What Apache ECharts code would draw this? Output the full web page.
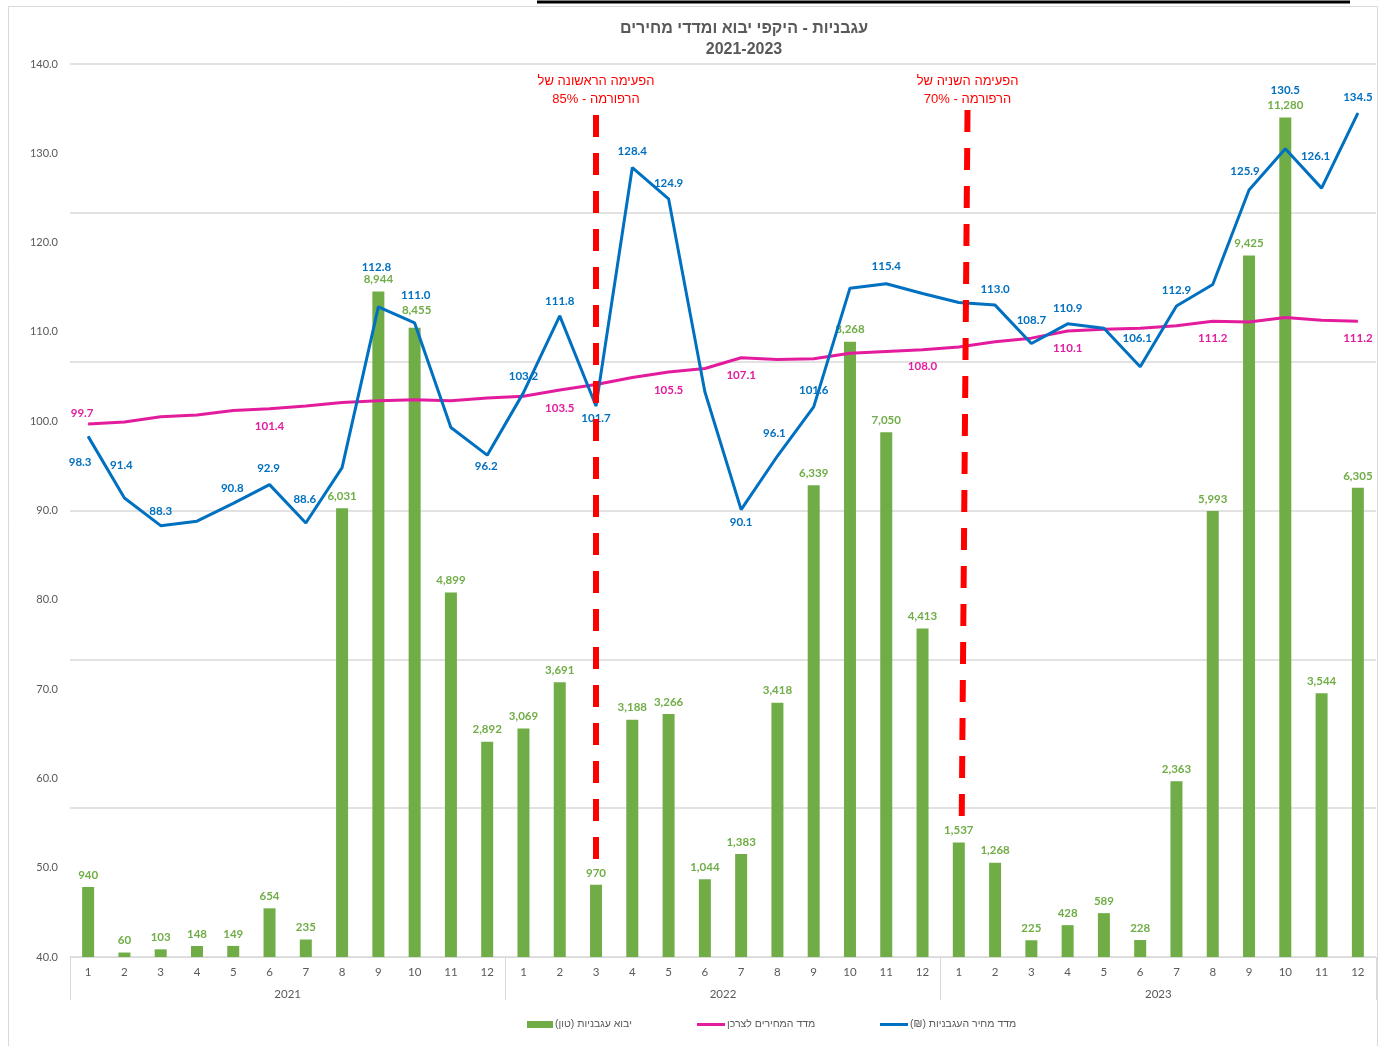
<!DOCTYPE html>
<html><head><meta charset="utf-8">
<script src="https://cdn.jsdelivr.net/npm/echarts@6/dist/echarts.min.js"></script>
<style>html,body{margin:0;padding:0;background:#fff}#c{width:1386px;height:1046px}</style>
</head><body><div id="c"></div>
<script>
const RLM = '\u200F';
const years = ['2021', '2022', '2023'];
const months = ['1','2','3','4','5','6','7','8','9','10','11','12'];
const importTons = [940, 60, 103, 148, 149, 654, 235, 6031, 8944, 8455, 4899, 2892,
                    3069, 3691, 970, 3188, 3266, 1044, 1383, 3418, 6339, 8268, 7050, 4413,
                    1537, 1268, 225, 428, 589, 228, 2363, 5993, 9425, 11280, 3544, 6305];
const tomatoIndex = [98.3, 91.4, 88.3, 88.8, 90.8, 92.9, 88.6, 94.8, 112.8, 111.0, 99.3, 96.2,
                     103.2, 111.8, 101.7, 128.4, 124.9, 103.3, 90.1, 96.1, 101.6, 114.9, 115.4, 114.3,
                     113.3, 113.0, 108.7, 110.9, 110.4, 106.1, 112.9, 115.3, 125.9, 130.5, 126.1, 134.5];
const cpi = [99.7, 99.9, 100.5, 100.7, 101.2, 101.4, 101.7, 102.1, 102.3, 102.4, 102.3, 102.6,
             102.8, 103.5, 104.1, 104.9, 105.5, 105.9, 107.1, 106.9, 107.0, 107.6, 107.8, 108.0,
             108.3, 108.9, 109.3, 110.1, 110.3, 110.4, 110.7, 111.2, 111.1, 111.6, 111.3, 111.2];
const seriesNames = ['יבוא עגבניות (טון)', 'מדד המחירים לצרכן', 'מדד מחיר העגבניות (₪)'];
const titleLines = ['עגבניות - היקפי יבוא ומדדי מחירים', '2021-2023'];
const reformNotes = [['הפעימה הראשונה של', 'הרפורמה - 85%'], ['הפעימה השניה של', 'הרפורמה - 70%']];
// annotation line ends: [x (category position), y (index value)]
const reformLines = [[[14.0, 134.3], [14.0, 50.9]], [[24.24, 134.85], [24.08, 55.1]]];

// label placement (style only): index -> [dx, dy] offset of label centre from point
const blueLabelOffsets = {0:[-8,26],1:[-3,-33],2:[0,-14],4:[-1,-15],5:[-1,-16],6:[-1,-24],8:[-2,-40],9:[1,-28],
  11:[-1,11],12:[0,-16],13:[0,-15],14:[0,12],15:[0,-16],16:[0,-16],18:[0,13],19:[-3,-23],20:[0,-17],22:[0,-17],
  25:[0,-16],26:[0,-23],27:[0,-16],29:[-3,-28],30:[0,-16],32:[-4,-19],33:[0,-59],34:[-6,-32],35:[0,-16]};
const pinkLabelOffsets = {0:[-6,-11],5:[0,18],13:[0,18],16:[0,18],18:[0,17],23:[0,17],27:[0,17],31:[0,17],35:[0,17]};
const barLabelOffsets = {9:[2,-6]};
const reformLabelDistance = [6, 2];

const rtl = s => RLM + s + RLM;
const categories = years.flatMap(y => months.map(m => y + '-' + m));
const NUMFONT = 'Lato, "Liberation Sans", sans-serif';
const HEBFONT = '"Liberation Sans", "DejaVu Sans", sans-serif';
const BLUE = '#0070C0', PINK = '#E31C9E', GREEN = '#70AD47', GRAY = '#595959', GRID = '#D9D9D9';

function withLabels(values, offsets) {
  return values.map((v, i) => ({
    value: v,
    label: offsets[i] ? { show: true, offset: offsets[i] } : { show: false }
  }));
}

const chart = echarts.init(document.getElementById('c'), null, { renderer: 'canvas' });
chart.setOption({
  backgroundColor: '#fff',
  animation: false,
  title: {
    text: titleLines.map(rtl).join('\n'),
    left: 739, top: 13, textAlign: 'center',
    textStyle: { fontFamily: HEBFONT, fontSize: 16, fontWeight: 'bold', color: GRAY, lineHeight: 21 }
  },
  graphic: [
    { type: 'rect', shape: { x: 8.5, y: 6.5, width: 1369, height: 1050 }, style: { fill: 'none', stroke: GRID, lineWidth: 1 }, silent: true, z: -10 },
    { type: 'line', shape: { x1: 537, y1: 2, x2: 1350, y2: 2 }, style: { stroke: '#000', lineWidth: 3 }, silent: true }
  ],
  legend: [0, 1, 2].map(k => ({
    data: [rtl(seriesNames[k])],
    left: [522, 692, 875][k], top: 1014,
    itemWidth: [26, 28, 28][k], itemHeight: [7, 3, 3][k], itemGap: 0,
    icon: 'rect',
    textStyle: { fontFamily: HEBFONT, fontSize: 10.5, color: GRAY, padding: [0, 0, 0, -3] },
    selectedMode: false
  })),
  grid: { left: 70, right: 10, top: 64, bottom: 89, containLabel: false },
  xAxis: [
    {
      type: 'category', data: categories, position: 'bottom', boundaryGap: true,
      axisLine: { show: true, lineStyle: { color: GRID, width: 1 } },
      axisTick: { show: false },
      axisLabel: { interval: 0, margin: 9, color: GRAY, fontFamily: NUMFONT, fontSize: 11.5,
                   formatter: v => v.split('-')[1] },
      splitLine: { show: false }
    },
    {
      type: 'category', data: years, position: 'bottom', boundaryGap: true,
      axisLine: { show: false },
      axisTick: { show: true, length: 43, alignWithLabel: false, lineStyle: { color: GRID, width: 1 } },
      axisLabel: { margin: 31, color: GRAY, fontFamily: NUMFONT, fontSize: 11.5 },
      splitLine: { show: false }
    },
    { type: 'value', min: -0.5, max: 35.5, show: false }
  ],
  yAxis: [
    {
      type: 'value', min: 40, max: 140, interval: 10, position: 'left',
      axisLine: { show: false }, axisTick: { show: false }, splitLine: { show: false },
      axisLabel: { margin: 12, color: GRAY, fontFamily: NUMFONT, fontSize: 11, formatter: v => v.toFixed(1) }
    },
    {
      type: 'value', min: 0, max: 12000, interval: 2000, position: 'right',
      axisLine: { show: false }, axisTick: { show: false }, axisLabel: { show: false },
      splitLine: { show: true, lineStyle: { color: GRID, width: 1.5 } }
    }
  ],
  series: [
    {
      name: rtl(seriesNames[0]), type: 'bar', xAxisIndex: 0, yAxisIndex: 1,
      data: importTons.map((v, i) => barLabelOffsets[i] ? { value: v, label: { offset: barLabelOffsets[i] } } : v),
      barWidth: 12, itemStyle: { color: GREEN }, z: 2,
      label: { show: true, position: 'top', distance: 6, color: GREEN, fontFamily: NUMFONT,
               fontWeight: 'bold', fontSize: 11.5, formatter: p => p.value.toLocaleString('en-US') }
    },
    {
      name: rtl(seriesNames[1]), type: 'line', xAxisIndex: 0, yAxisIndex: 0,
      data: withLabels(cpi, pinkLabelOffsets), symbol: 'circle', symbolSize: 1,
      itemStyle: { color: PINK }, lineStyle: { color: PINK, width: 3 }, z: 3,
      label: { position: 'inside', color: PINK, fontFamily: NUMFONT, fontWeight: 'bold', fontSize: 11.5,
               formatter: p => p.value.toFixed(1) }
    },
    {
      name: rtl(seriesNames[2]), type: 'line', xAxisIndex: 0, yAxisIndex: 0,
      data: withLabels(tomatoIndex, blueLabelOffsets), symbol: 'circle', symbolSize: 1,
      itemStyle: { color: BLUE }, lineStyle: { color: BLUE, width: 3 }, z: 4,
      label: { position: 'inside', color: BLUE, fontFamily: NUMFONT, fontWeight: 'bold', fontSize: 11.5,
               formatter: p => p.value.toFixed(1) }
    },
    {
      name: 'reform', type: 'line', xAxisIndex: 2, yAxisIndex: 0, data: [], z: 10,
      markLine: {
        silent: true, symbol: ['none', 'none'], animation: false,
        lineStyle: { color: '#FF0000', width: 6, type: [22, 16], cap: 'butt' },
        label: { show: true, position: 'start', color: '#FF0000', fontFamily: HEBFONT,
                 fontSize: 13, lineHeight: 18 },
        data: reformLines.map((ln, k) => [
          { coord: ln[0], label: { distance: reformLabelDistance[k], formatter: reformNotes[k].map(rtl).join('\n') } },
          { coord: ln[1] }
        ])
      }
    }
  ]
});
</script>
</body></html>
